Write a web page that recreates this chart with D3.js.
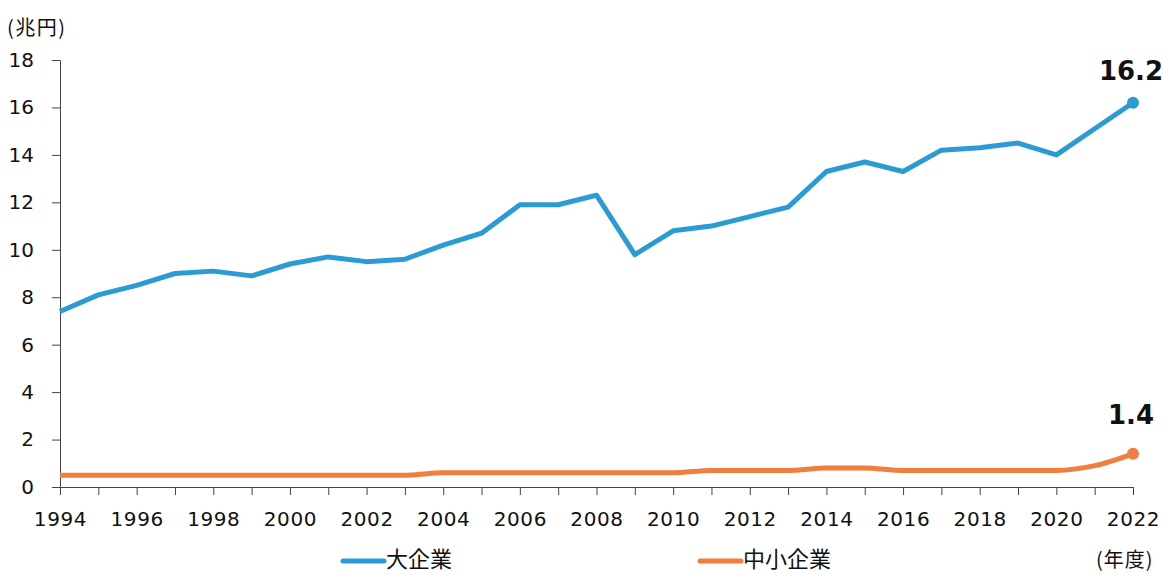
<!DOCTYPE html>
<html>
<head>
<meta charset="utf-8">
<script src="https://cdn.jsdelivr.net/npm/d3@7"></script>
<style>
	body { margin: 0; background: #fff; }
	svg text { font-family: "DejaVu Sans", "Noto Sans CJK JP", sans-serif; fill: #111; }
	.jp { font-family: "Noto Sans CJK JP", sans-serif; }
</style>
</head>
<body>
<div id="chart"></div>
<script>
const years = d3.range(1994, 2023)
const largeCorp = [7.4, 8.1, 8.5, 9.0, 9.1, 8.9, 9.4, 9.7, 9.5, 9.6,
	10.2, 10.7, 11.9, 11.9, 12.3, 9.8, 10.8, 11.0, 11.4, 11.8,
	13.3, 13.7, 13.3, 14.2, 14.3, 14.5, 14.0, 15.1, 16.2]
const smallCorp = [0.5, 0.5, 0.5, 0.5, 0.5, 0.5, 0.5, 0.5, 0.5, 0.5,
	0.6, 0.6, 0.6, 0.6, 0.6, 0.6, 0.6, 0.7, 0.7, 0.7,
	0.8, 0.8, 0.7, 0.7, 0.7, 0.7, 0.7, 0.9, 1.4]
const yTicks = [0, 2, 4, 6, 8, 10, 12, 14, 16, 18]
const seriesNames = ['大企業', '中小企業']

const BLUE = '#2b9bd3'
const ORANGE = '#f07e3e'

const width = 1163
const height = 575
const margin = { left: 60, right: 30, top: 60, bottom: 88 }

const svg = d3.select('#chart').append('svg')
	.attr('width', width)
	.attr('height', height)

const x = d3.scaleLinear()
	.domain([1994, 2022])
	.range([margin.left, width - margin.right])
const y = d3.scaleLinear()
	.domain([0, 18])
	.range([height - margin.bottom, margin.top])

// axes
const yAxis = svg.append('g')
	.attr('transform', `translate(${margin.left},0)`)
	.call(d3.axisLeft(y).tickValues(yTicks).tickSize(8).tickPadding(18))
yAxis.select('.domain').attr('stroke', '#444')
yAxis.selectAll('line').attr('stroke', '#444')
yAxis.selectAll('text').style('font-size', '20px').attr('fill', '#111')

const xAxis = svg.append('g')
	.attr('transform', `translate(0,${y(0)})`)
	.call(d3.axisBottom(x).tickValues(years).tickSize(8).tickPadding(17)
		.tickFormat(d => d % 2 === 0 ? d : ''))
xAxis.select('.domain').attr('stroke', '#444')
xAxis.selectAll('line').attr('stroke', '#444')
xAxis.selectAll('text')
	.style('font-size', '20px')
	.style('letter-spacing', '0.6px')
	.attr('fill', '#111')

svg.append('text')
	.attr('class', 'jp')
	.attr('x', 7).attr('y', 35)
	.style('font-size', '20px')
	.style('letter-spacing', '1.5px')
	.text('(兆円)')

svg.append('text')
	.attr('class', 'jp')
	.attr('x', 1096).attr('y', 567)
	.style('font-size', '20px')
	.style('letter-spacing', '1px')
	.text('(年度)')

// lines
const line = d3.line()
	.x((d, i) => x(years[i]))
	.y(d => y(d))

svg.append('path')
	.datum(largeCorp)
	.attr('fill', 'none')
	.attr('stroke', BLUE)
	.attr('stroke-width', 5)
	.attr('stroke-linejoin', 'round')
	.attr('d', line)

svg.append('path')
	.datum(smallCorp)
	.attr('fill', 'none')
	.attr('stroke', ORANGE)
	.attr('stroke-width', 5)
	.attr('d', line.curve(d3.curveMonotoneX))

// end points + labels
const ends = [
	{ v: largeCorp[largeCorp.length - 1], c: BLUE, dy: -23 },
	{ v: smallCorp[smallCorp.length - 1], c: ORANGE, dy: -30 }
]
svg.selectAll('.end-dot')
	.data(ends)
	.join('circle')
	.attr('cx', x(2022))
	.attr('cy', d => y(d.v))
	.attr('r', 6)
	.attr('fill', d => d.c)

svg.selectAll('.end-label')
	.data(ends)
	.join('text')
	.attr('x', x(2022) - 2)
	.attr('y', d => y(d.v) + d.dy)
	.attr('text-anchor', 'middle')
	.style('font-size', '26px')
	.style('font-weight', 'bold')
	.text(d => d3.format('.1f')(d.v))

// legend
const legend = svg.append('g')
const legendX = [343, 700]
const legendColors = [BLUE, ORANGE]
seriesNames.forEach((name, i) => {
	legend.append('line')
		.attr('x1', legendX[i]).attr('x2', legendX[i] + 41)
		.attr('y1', 561).attr('y2', 561)
		.attr('stroke', legendColors[i])
		.attr('stroke-width', 5)
		.attr('stroke-linecap', 'round')
	legend.append('text')
		.attr('class', 'jp')
		.attr('x', legendX[i] + 43).attr('y', 567)
		.style('font-size', '22px')
		.text(name)
})
</script>
</body>
</html>
